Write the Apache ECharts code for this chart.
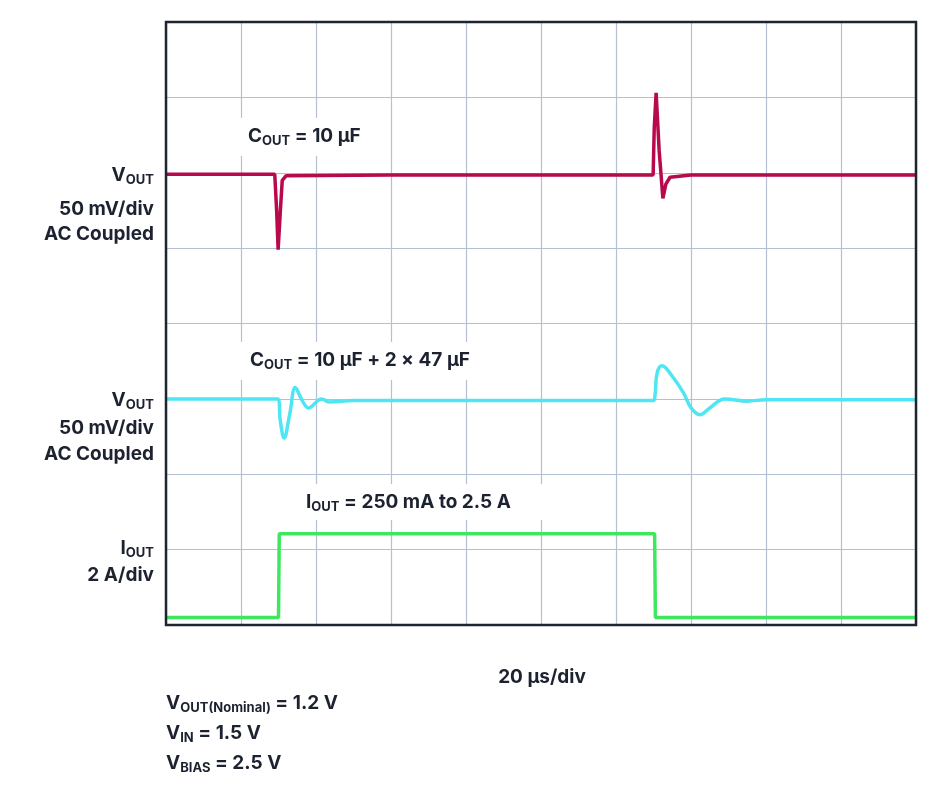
<!DOCTYPE html>
<html><head><meta charset="utf-8">
<script src="https://cdn.jsdelivr.net/npm/echarts@6/dist/echarts.min.js"></script>
<style>html,body{margin:0;background:#fff}#c{width:950px;height:800px}</style>
</head><body><div id="c"></div>
<script>
// time in µs (20 µs/div), value in divisions (0..8)
const redTrace = [[0,5.98],[29,5.98],[29.5,5.5],[29.9,4.98],[30.5,5.5],[31,5.9],[32,5.96],[60,5.97],[100,5.97],[129.9,5.97],[130.2,6.6],[130.7,7.06],[131.5,6.3],[132.5,5.66],[133.3,5.85],[134.4,5.94],[140,5.97],[200,5.97]];
const cyanTrace = [[0,3.0],[29.8,3.0],[30.5,2.7],[31.5,2.48],[33,2.8],[34.5,3.15],[36.3,2.98],[38,2.88],[41.5,3.0],[43.5,2.96],[50,2.98],[130,2.98],[130.4,3.05],[131,3.35],[132.3,3.44],[135,3.3],[138,3.08],[140,2.88],[142.4,2.79],[145,2.88],[149,3.0],[155,2.97],[160,2.99],[200,2.99]];
const greenTrace = [[0,0.1],[30,0.1],[30.2,1.21],[60,1.21],[100,1.21],[130.3,1.21],[130.5,0.1],[200,0.1]];
const xTicks = [0,20,40,60,80,100,120,140,160,180,200];

const chart = echarts.init(document.getElementById('c'));
const F = 'Inter, Roboto, sans-serif';
const rich = {
  m:{fontFamily:F,fontWeight:'bold',fontSize:19,color:'#1c2230',lineHeight:24},
  s:{fontFamily:F,fontWeight:'bold',fontSize:13,color:'#1c2230',lineHeight:24,verticalAlign:'bottom',padding:[10,0,0,0]}
};
function txt(x,y,t,align){return {type:'text',x:x,y:y,style:{text:t,rich:rich,align:align||'left',verticalAlign:'middle',fill:'#1c2230',font:'bold 19px '+F},z:10};}
function box(x,y,w,h){return {type:'rect',shape:{x:x,y:y,width:w,height:h},style:{fill:'#fff'},z:5};}
chart.setOption({
  animation:false,
  grid:{left:166,right:34,top:22,bottom:175},
  xAxis:{type:'value',min:0,max:200,interval:20,axisLine:{show:false},axisTick:{show:false},axisLabel:{show:false},splitLine:{lineStyle:{color:'#b3c0d2',width:1.2}}},
  yAxis:{type:'value',min:0,max:8,interval:1,axisLine:{show:false},axisTick:{show:false},axisLabel:{show:false},splitLine:{lineStyle:{color:'#b3c0d2',width:1.2}}},
  series:[
    {type:'line',data:redTrace,symbol:'none',lineStyle:{color:'#b8094c',width:3.5},z:3},
    {type:'line',data:cyanTrace,symbol:'none',smooth:0.4,lineStyle:{color:'#4fe6f4',width:3.5},z:3},
    {type:'line',data:greenTrace,symbol:'none',lineStyle:{color:'#3ee85e',width:3.5},z:3}
  ],
  graphic:[
    {type:'rect',shape:{x:166,y:22,width:750,height:603},style:{fill:'none',stroke:'#1e2530',lineWidth:2.5},z:20},
    box(240,118,150,38), box(240,342,258,38), box(298,484,252,36),
    txt(248,136,'{m|C}{s|OUT}{m| = 10 µF}'),
    txt(250,360,'{m|C}{s|OUT}{m| = 10 µF + 2 × 47 µF}'),
    txt(306,502,'{m|I}{s|OUT}{m| = 250 mA to 2.5 A}'),
    txt(154,175,'{m|V}{s|OUT}','right'), txt(154,209,'{m|50 mV/div}','right'), txt(154,234,'{m|AC Coupled}','right'),
    txt(154,400,'{m|V}{s|OUT}','right'), txt(154,428,'{m|50 mV/div}','right'), txt(154,454,'{m|AC Coupled}','right'),
    txt(154,548,'{m|I}{s|OUT}','right'), txt(154,575,'{m|2 A/div}','right'),
    txt(542,677,'{m|20 µs/div}','center'),
    txt(166,703,'{m|V}{s|OUT(Nominal)}{m| = 1.2 V}'),
    txt(166,733,'{m|V}{s|IN}{m| = 1.5 V}'),
    txt(166,763,'{m|V}{s|BIAS}{m| = 2.5 V}')
  ]
});
</script></body></html>
